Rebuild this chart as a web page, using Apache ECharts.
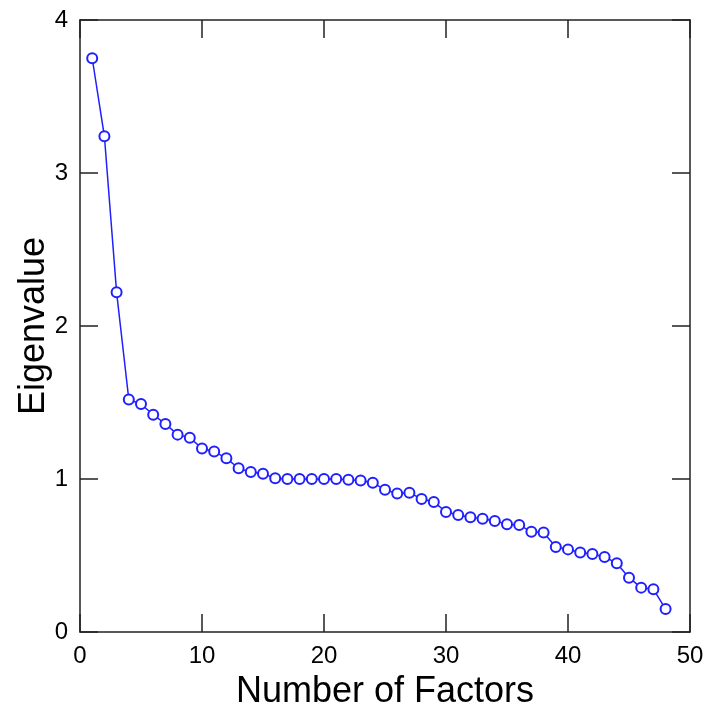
<!DOCTYPE html>
<html>
<head>
<meta charset="utf-8">
<script src="https://cdn.jsdelivr.net/npm/echarts@6/dist/echarts.min.js"></script>
<style>html,body{margin:0;padding:0;background:#fff;}#c{width:708px;height:715px;}</style>
</head>
<body>
<div id="c"></div>
<script>
const factors = [1,2,3,4,5,6,7,8,9,10,11,12,13,14,15,16,17,18,19,20,21,22,23,24,25,26,27,28,29,30,31,32,33,34,35,36,37,38,39,40,41,42,43,44,45,46,47,48];
const eigenvalues = [3.75,3.24,2.22,1.52,1.49,1.42,1.36,1.29,1.27,1.20,1.18,1.135,1.07,1.045,1.035,1.005,1.00,1.00,1.00,1.00,1.00,0.995,0.99,0.975,0.93,0.905,0.91,0.87,0.85,0.785,0.765,0.75,0.74,0.725,0.705,0.70,0.655,0.65,0.555,0.54,0.52,0.51,0.49,0.45,0.355,0.29,0.28,0.15];
const xTitle = 'Number of Factors';
const yTitle = 'Eigenvalue';

const chart = echarts.init(document.getElementById('c'), null, {renderer:'canvas'});
const font = '"Liberation Sans", Arial, sans-serif';
const axisLine = {show:true, onZero:false, lineStyle:{color:'#222', width:1.5}};
const tick = {show:true, inside:true, length:18, lineStyle:{color:'#222', width:1.5}};
chart.setOption({
  animation:false,
  backgroundColor:'#fff',
  grid:{left:80, right:18, top:20, bottom:83, containLabel:false},
  xAxis:[
    {type:'value', min:0, max:50, interval:10, position:'bottom',
     name:xTitle, nameLocation:'middle', nameGap:42, nameMoveOverlap:false,
     nameTextStyle:{fontFamily:font, fontSize:36, color:'#000'},
     axisLine:axisLine, axisTick:tick, splitLine:{show:false},
     axisLabel:{fontFamily:font, fontSize:24, color:'#000', margin:12}},
    {type:'value', min:0, max:50, interval:10, position:'top',
     axisLine:axisLine, axisTick:tick, splitLine:{show:false}, axisLabel:{show:false}}
  ],
  yAxis:[
    {type:'value', min:0, max:4, interval:1, position:'left',
     name:yTitle, nameLocation:'middle', nameGap:28, nameMoveOverlap:false,
     nameTextStyle:{fontFamily:font, fontSize:36, color:'#000'},
     axisLine:axisLine, axisTick:tick, splitLine:{show:false},
     axisLabel:{fontFamily:font, fontSize:24, color:'#000', margin:12}},
    {type:'value', min:0, max:4, interval:1, position:'right',
     axisLine:axisLine, axisTick:tick, splitLine:{show:false}, axisLabel:{show:false}}
  ],
  series:[{
    type:'line',
    data:factors.map((f,i)=>[f, eigenvalues[i]]),
    symbol:'emptyCircle', symbolSize:10,
    lineStyle:{color:'#2020ff', width:1.5},
    itemStyle:{color:'#2020ff', borderWidth:1.5, borderColor:'#2020ff'}
  }]
});
</script>
</body>
</html>
